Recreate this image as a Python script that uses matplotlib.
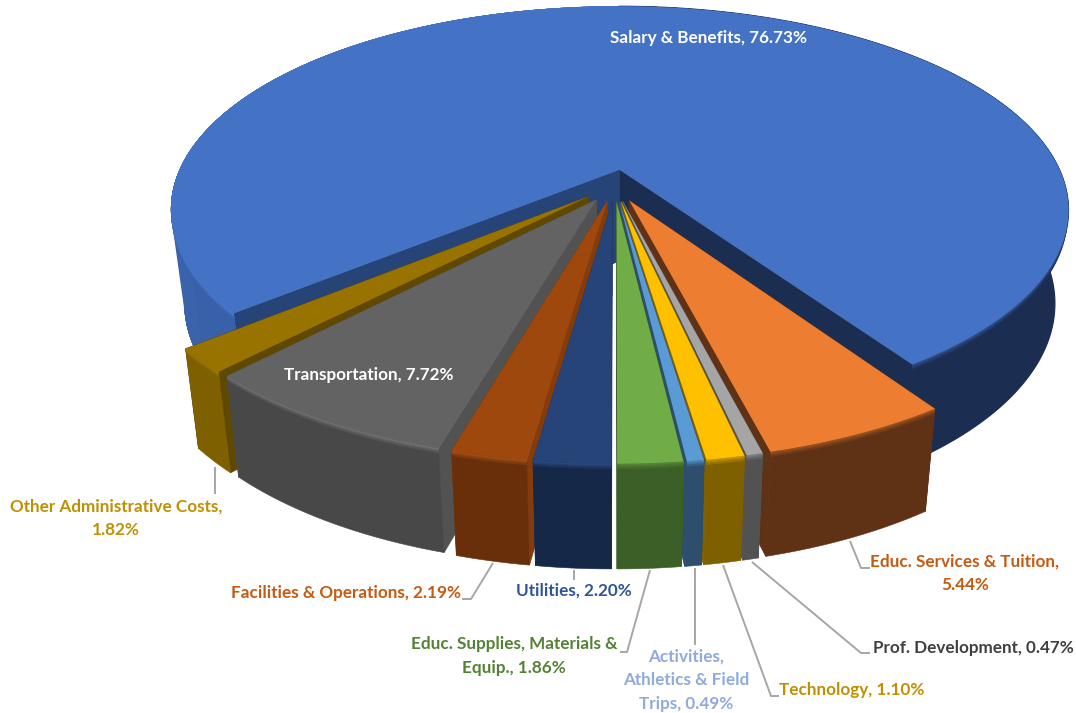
import numpy as np
import matplotlib
matplotlib.use("Agg")
import matplotlib.pyplot as plt
from matplotlib.colors import to_rgb

# ---- data ----
categories = ["Salary & Benefits", "Other Administrative Costs", "Transportation",
              "Facilities & Operations", "Utilities", "Educ. Supplies, Materials & Equip.",
              "Activities, Athletics & Field Trips", "Technology", "Prof. Development",
              "Educ. Services & Tuition"]
values = [76.73, 1.82, 7.72, 2.19, 2.20, 1.86, 0.49, 1.10, 0.47, 5.44]

# ---- styles ----
top_colors = ["#4472C4", "#997300", "#636363", "#9E480E", "#264478", "#70AD47",
              "#5B9BD5", "#FFC000", "#A5A5A5", "#ED7D31"]
wall_colors = ["#1B2D50", "#7F6000", "#484848", "#682F0A", "#162848", "#3C5F28",
               "#2D4E6C", "#7F6000", "#525252", "#5F3115"]
side_colors = ["#1B2D50", "#5F4800", "#525252", "#843C0C", "#1E3A68", "#3C5F28",
               "#2D4E6C", "#7F6000", "#525252", "#5F3115"]
rim_colors = ["#33589C", "#A87F08", "#7C7C7C", "#B25518", "#2F5290", "#5C8E3B",
              "#5694C8", "#D8A400", "#8A8A8A", "#A85A24"]
paint_order = [0, 1, 2, 3, 4, 9, 8, 7, 6, 5]

FIRST_ANGLE = 33.69
EXPLODE = 0.08
CX, CY, A, B, K = 614.5, 185.5, 447.0, 202.0, 0.20
DEPTH0, DEPTH1, CONVERGE = 44.0, 48.0, 0.03
RIM_LEVELS = [0.015, 0.03, 0.05, 0.07]


def project(u, v, z=0.0):
    u, v = np.asarray(u, float), np.asarray(v, float)
    s = 1.0 / (1.0 - K * v)
    x = CX + A * u * s * (1 - CONVERGE * z)
    y = CY + B * v * s + z * (DEPTH0 + DEPTH1 * s)
    return x, y


def mix(a, b, t):
    a, b = np.array(to_rgb(a)), np.array(to_rgb(b))
    return tuple(a + (b - a) * t)


fig = plt.figure(figsize=(10.76, 7.13), dpi=100)
ax = fig.add_axes([0, 0, 1, 1])
ax.set_xlim(0, 1076)
ax.set_ylim(713, 0)
ax.axis("off")

total = sum(values)
sweeps = [v / total * 360 for v in values]
starts = FIRST_ANGLE + np.concatenate([[0], np.cumsum(sweeps)[:-1]])

z = 1


def poly(xs, ys, color, edge=0.0):
    global z
    ax.fill(xs, ys, facecolor=color, edgecolor=color if edge else "none", linewidth=edge, zorder=z)
    z += 1


for i in paint_order:
    p1, sweep = starts[i], sweeps[i]
    p2 = p1 + sweep
    mid = np.radians(p1 + sweep / 2)
    ox, oy = EXPLODE * np.sin(mid), EXPLODE * np.cos(mid)

    def pt(phi, r, zz=0.0):
        return project(ox + r * np.sin(phi), oy + r * np.cos(phi), zz)

    def band(d0, d1, z0, z1, color, edge=0.0):
        arc = np.radians(np.linspace(d0, d1, max(int((d1 - d0) * 2), 8)))
        xa, ya = pt(arc, 1.0, z0)
        xb, yb = pt(arc, 1.0, z1)
        poly(np.r_[xa, xb[::-1]], np.r_[ya, yb[::-1]], color, edge)

    # radial walls, painted first so the outer wall covers the hidden ones
    for edge, col in ((p1, side_colors[i]), (p2, "#264478" if i == 0 else side_colors[i])):
        e = np.radians(edge)
        rr = np.array([0, 1.0])
        x0, y0 = pt(e, rr, 0)
        x1, y1 = pt(e, rr, 1)
        poly(np.r_[x0, x1[::-1]], np.r_[y0, y1[::-1]], col, 0.6)

    # outer wall: base, then a soft bevel painted from the lower edge up to the rim
    if i == 0:
        band(p1, 180, 0, 1, wall_colors[0], 0.8)
        for j in range(len(RIM_LEVELS), 0, -1):
            band(p1, 180, 0, RIM_LEVELS[j - 1], mix(rim_colors[0], wall_colors[0], j / len(RIM_LEVELS)))
        grads = np.linspace(180, p2, 12)
        for d0 in grads[:-1]:
            c = mix("#4069B4", "#375FA6", np.clip((d0 - 255) / 55, 0, 1))
            band(d0, p2, 0, 1, c)
        for j in range(len(RIM_LEVELS), 0, -1):
            band(180, p2, 0, RIM_LEVELS[j - 1], mix("#4C82DE", "#3A62AA", j / len(RIM_LEVELS)))
    else:
        band(p1, p2, 0, 1, wall_colors[i], 0.4)
        for j in range(len(RIM_LEVELS), 0, -1):
            band(p1, p2, 0, RIM_LEVELS[j - 1], mix(rim_colors[i], wall_colors[i], j / len(RIM_LEVELS)))

    # top face
    arc = np.radians(np.linspace(p1, p2, max(int(sweep * 2), 8)))
    xa, ya = pt(arc, 1.0)
    xc, yc = pt(0.0, 0.0)
    poly(np.r_[xc, xa], np.r_[yc, ya], top_colors[i])

# ---- leader lines (pixel layout) ----
leaders = [
    [(215, 467), (215, 494)],
    [(493, 563), (471, 599), (462, 599)],
    [(574, 570), (574, 580)],
    [(650, 570), (627, 652), (620, 652)],
    [(695, 568), (695, 645)],
    [(723, 565), (771, 696), (779, 696)],
    [(752, 562), (861, 653), (870, 653)],
    [(850, 541), (861, 568), (870, 568)],
]
for line in leaders:
    xs, ys = zip(*line)
    ax.plot(xs, ys, color="#A6A6A6", lw=1.4, zorder=z, solid_capstyle="butt")
z += 1

# ---- labels ----
label_names = {0: "Salary & Benefits", 1: "Other Administrative Costs,\n", 2: "Transportation",
               3: "Facilities & Operations", 4: "Utilities",
               5: "Educ. Supplies, Materials &\nEquip.", 6: "Activities,\nAthletics & Field\nTrips",
               7: "Technology", 8: "Prof. Development", 9: "Educ. Services & Tuition,\n"}
label_pos = {0: (708, 38), 1: (116, 518), 2: (369, 375), 3: (346, 593), 4: (574, 591),
             5: (514, 656), 6: (686, 680), 7: (852, 690), 8: (973, 648), 9: (965, 573)}
label_colors = {0: "white", 1: "#BF9000", 2: "white", 3: "#C55A11", 4: "#2F5597",
                5: "#548235", 6: "#8FAADC", 7: "#BF9000", 8: "#404040", 9: "#C55A11"}
for i, name in label_names.items():
    sep = "" if name.endswith("\n") else ", "
    ax.text(*label_pos[i], f"{name}{sep}{values[i]:.2f}%", color=label_colors[i], ha="center",
            va="center", family="Lato", fontweight="bold", fontsize=12.3, linespacing=1.6, zorder=z)

fig.savefig("out.png", dpi=100, facecolor="white")
